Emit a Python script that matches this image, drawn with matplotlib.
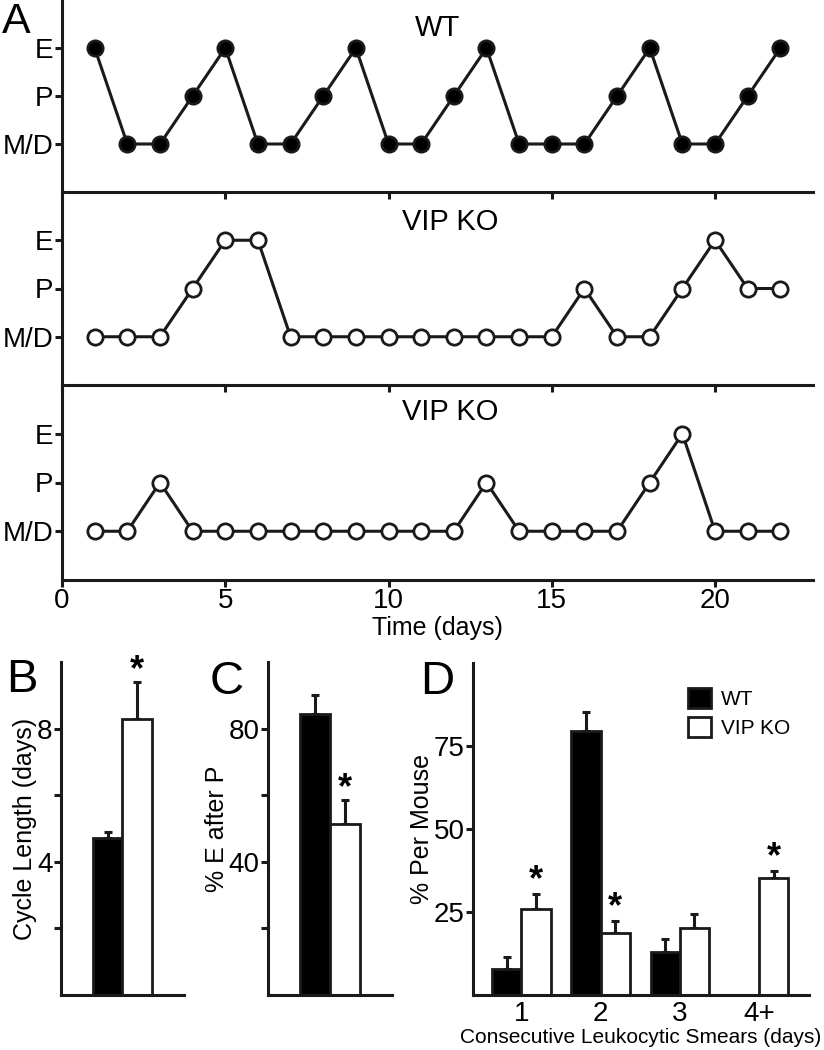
import numpy as np
import matplotlib.pyplot as plt

plt.rcParams['font.family'] = ['Liberation Sans', 'DejaVu Sans']

# ---- data ----
days = list(range(1, 23))
# 1 = M/D, 2 = P, 3 = E
wt_stage = [3, 1, 1, 2, 3, 1, 1, 2, 3, 1, 1, 2, 3, 1, 1, 1, 2, 3, 1, 1, 2, 3]
ko1_stage = [1, 1, 1, 2, 3, 3, 1, 1, 1, 1, 1, 1, 1, 1, 1, 2, 1, 1, 2, 3, 2, 2]
ko2_stage = [1, 1, 2, 1, 1, 1, 1, 1, 1, 1, 1, 1, 2, 1, 1, 1, 1, 2, 3, 1, 1, 1]
stage_labels = ['M/D', 'P', 'E']

cycle_mean = [4.7, 8.3]
cycle_err = [0.2, 1.1]

e_after_p_mean = [84.5, 51.5]
e_after_p_err = [5.5, 7.0]

smear_groups = ['1', '2', '3', '4+']
smear_wt = [7.8, 79.6, 12.9, 0.0]
smear_wt_err = [3.6, 5.7, 4.0, 0.0]
smear_ko = [26.0, 18.6, 20.1, 35.1]
smear_ko_err = [4.3, 3.6, 4.2, 2.2]
smear_sig = [True, True, False, True]

W, H = 824, 1050
fig = plt.figure(figsize=(W / 100, H / 100), dpi=100)


def box(l, t, r, b):
    return [l / W, 1 - b / H, (r - l) / W, (b - t) / H]


LW = 2.2
FS = 20
LFS = 18
INK = '#1a1a1a'


def style(ax):
    for s in ['top', 'right']:
        ax.spines[s].set_visible(False)
    for s in ['left', 'bottom']:
        ax.spines[s].set_linewidth(LW)
        ax.spines[s].set_color(INK)
    ax.tick_params(width=LW, length=5, labelsize=FS, color=INK, pad=1)


# ---- panel A ----
rows = [(wt_stage, 'WT', 'black', 0, 192, 0.50, 0.855),
        (ko1_stage, 'VIP KO', 'white', 192, 385, 0.517, 0.845),
        (ko2_stage, 'VIP KO', 'white', 385, 580, 0.517, 0.86)]
for i, (stage, name, fc, top, bot, tx, ty) in enumerate(rows):
    ax = fig.add_axes(box(62, top, 813, bot))
    style(ax)
    ax.plot(days, stage, color=INK, lw=2.2, marker='o', ms=11,
            mfc=fc, mec=INK, mew=2.0, zorder=3, clip_on=False)
    ax.set_xlim(0, 23)
    ax.set_ylim(0, 4)
    ax.set_yticks([1, 2, 3])
    ax.set_yticklabels(stage_labels)
    ax.set_xticks([0, 5, 10, 15, 20])
    ax.patch.set_alpha(0)
    if i < 2:
        ax.set_xticklabels([])
    else:
        ax.set_xlabel('Time (days)', fontsize=LFS, labelpad=1)
    ax.text(tx, ty, name, transform=ax.transAxes, ha='center', va='center',
            fontsize=21)

fig.text(16 / W, 1 - 33 / H, 'A', fontsize=31, ha='center', va='baseline')


def star(ax, x, y):
    ax.text(x, y, '*', ha='center', va='center', fontsize=26, fontweight='bold')


# ---- panel B ----
axB = fig.add_axes(box(61, 662, 184, 995))
style(axB)
axB.bar([0, 1], cycle_mean, width=1.0, color=['black', 'white'],
        edgecolor=INK, lw=2.0, zorder=2)
axB.errorbar([0, 1], cycle_mean, yerr=[[0, 0], cycle_err], fmt='none',
             ecolor=INK, elinewidth=2.2, capsize=3, capthick=2.2, zorder=1)
axB.set_xlim(-1.6, 2.6)
axB.set_ylim(0, 10)
axB.set_yticks([2, 4, 6, 8])
axB.set_yticklabels(['', '4', '', '8'])
axB.set_xticks([])
axB.set_ylabel('Cycle Length (days)', fontsize=LFS, labelpad=0)
star(axB, 1, 9.75)
fig.text(22 / W, 1 - 680 / H, 'B', fontsize=34, ha='center', va='center')

# ---- panel C ----
axC = fig.add_axes(box(268, 662, 392, 995))
style(axC)
axC.bar([0, 1], e_after_p_mean, width=1.0, color=['black', 'white'],
        edgecolor=INK, lw=2.0, zorder=2)
axC.errorbar([0, 1], e_after_p_mean, yerr=[[0, 0], e_after_p_err], fmt='none',
             ecolor=INK, elinewidth=2.2, capsize=3, capthick=2.2, zorder=1)
axC.set_xlim(-1.6, 2.6)
axC.set_ylim(0, 100)
axC.set_yticks([20, 40, 60, 80])
axC.set_yticklabels(['', '40', '', '80'])
axC.set_xticks([])
axC.set_ylabel('% E after P', fontsize=LFS, labelpad=0)
star(axC, 1, 62)
fig.text(227 / W, 1 - 682 / H, 'C', fontsize=34, ha='center', va='center')

# ---- panel D ----
axD = fig.add_axes(box(473, 663, 809, 995))
style(axD)
x = np.arange(1, 5)
bw = 0.37
axD.bar(x - bw / 2, smear_wt, width=bw, color='black', edgecolor=INK,
        lw=2.0, zorder=2, label='WT')
axD.bar(x + bw / 2, smear_ko, width=bw, color='white', edgecolor=INK,
        lw=2.0, zorder=2, label='VIP KO')
xw = [xi - bw / 2 for xi, v in zip(x, smear_wt) if v > 0]
axD.errorbar(xw, [v for v in smear_wt if v > 0],
             yerr=[[0] * len(xw), [e for v, e in zip(smear_wt, smear_wt_err) if v > 0]],
             fmt='none', ecolor=INK, elinewidth=2.2, capsize=3, capthick=2.2, zorder=1)
axD.errorbar(x + bw / 2, smear_ko, yerr=[[0] * 4, smear_ko_err], fmt='none',
             ecolor=INK, elinewidth=2.2, capsize=3, capthick=2.2, zorder=1)
for xi, v, e, s in zip(x, smear_ko, smear_ko_err, smear_sig):
    if s:
        star(axD, xi + bw / 2, v + e + 4.0)
axD.set_xlim(0.39, 4.63)
axD.set_ylim(0, 100)
axD.set_yticks([25, 50, 75])
axD.set_xticks(x)
axD.set_xticklabels(smear_groups)
axD.tick_params(axis='x', length=0, pad=4)
axD.set_ylabel('% Per Mouse', fontsize=LFS, labelpad=0)
axD.set_xlabel('Consecutive Leukocytic Smears (days)', fontsize=15, labelpad=1)
leg = axD.legend(loc='upper right', bbox_to_anchor=(1.0, 0.98), frameon=False,
                 fontsize=15, handlelength=1.1, handleheight=1.1, handletextpad=0.5,
                 labelspacing=0.35)
for h in leg.legend_handles:
    h.set_linewidth(2.0)
fig.text(437 / W, 1 - 682 / H, 'D', fontsize=34, ha='center', va='center')

fig.savefig('out.png', dpi=100)
